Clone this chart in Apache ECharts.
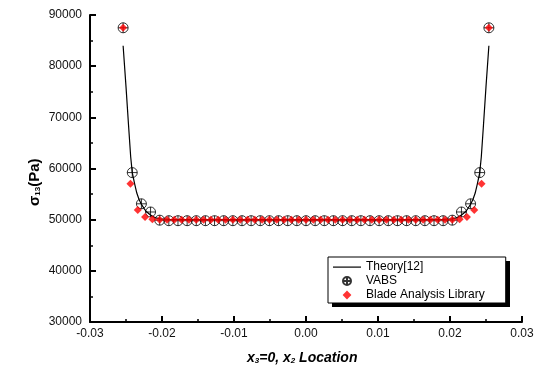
<!DOCTYPE html>
<html><head><meta charset="utf-8">
<script src="https://cdn.jsdelivr.net/npm/echarts@6/dist/echarts.min.js"></script>
<style>html,body{margin:0;padding:0;background:#fff}#c{width:538px;height:367px}</style>
</head><body><div id="c"></div>
<script>
// Theory[12] curve
var theoryX = [-0.0254,-0.0250,-0.02465,-0.02435,-0.02413,-0.0238,-0.0235,-0.0232,-0.0229,-0.0225,-0.0222,-0.0216,-0.0210,-0.0203,-0.0190,-0.0150,-0.0100,-0.0050,0,0.0050,0.0100,0.0150,0.0190,0.0203,0.0210,0.0216,0.0222,0.0225,0.0229,0.0232,0.0235,0.0238,0.02413,0.02435,0.02465,0.0250,0.0254];
var theoryY = [84000,76000,68500,62300,59200,57000,55200,54000,53100,52200,51600,50900,50400,50150,50050,50000,50000,50000,50000,50000,50000,50000,50050,50150,50400,50900,51600,52200,53100,54000,55200,57000,59200,62300,68500,76000,84000];
// VABS points
var vabsX = [-0.02540,-0.02413,-0.02286,-0.02159,-0.02032,-0.01905,-0.01778,-0.01651,-0.01524,-0.01397,-0.01270,-0.01143,-0.01016,-0.00889,-0.00762,-0.00635,-0.00508,-0.00381,-0.00254,-0.00127,0,0.00127,0.00254,0.00381,0.00508,0.00635,0.00762,0.00889,0.01016,0.01143,0.01270,0.01397,0.01524,0.01651,0.01778,0.01905,0.02032,0.02159,0.02286,0.02413,0.02540];
var vabsY = [87500,59200,53100,51500,49900,49800,49800,49800,49800,49800,49800,49800,49800,49800,49800,49800,49800,49800,49800,49800,49800,49800,49800,49800,49800,49800,49800,49800,49800,49800,49800,49800,49800,49800,49800,49800,49900,51500,53100,59200,87500];
// Blade Analysis Library points
var balX = [-0.025400,-0.024384,-0.023368,-0.022352,-0.021336,-0.020320,-0.019304,-0.018288,-0.017272,-0.016256,-0.015240,-0.014224,-0.013208,-0.012192,-0.011176,-0.010160,-0.009144,-0.008128,-0.007112,-0.006096,-0.005080,-0.004064,-0.003048,-0.002032,-0.001016,0,0.001016,0.002032,0.003048,0.004064,0.005080,0.006096,0.007112,0.008128,0.009144,0.010160,0.011176,0.012192,0.013208,0.014224,0.015240,0.016256,0.017272,0.018288,0.019304,0.020320,0.021336,0.022352,0.023368,0.024384,0.025400];
var balY = [87500,57000,51900,50500,50100,50000,50000,50000,50000,50000,50000,50000,50000,50000,50000,50000,50000,50000,50000,50000,50000,50000,50000,50000,50000,50000,50000,50000,50000,50000,50000,50000,50000,50000,50000,50000,50000,50000,50000,50000,50000,50000,50000,50000,50000,50000,50100,50500,51900,57000,87500];
var xTicks = [-0.03,-0.02,-0.01,0.00,0.01,0.02,0.03];
var yTicks = [30000,40000,50000,60000,70000,80000,90000];

function zip(a,b){return a.map(function(v,i){return [v,b[i]];});}
var vabsSymbol = 'path://M0,10 A10,10 0 1,1 20,10 A10,10 0 1,1 0,10 Z M10,0 L10,20 M0,10 L20,10';
var vabsIcon = 'path://M0,0 M70,27.5 M25,13.75 A10,10 0 1,1 45,13.75 A10,10 0 1,1 25,13.75 Z M35,3.75 L35,23.75 M25,13.75 L45,13.75';
var balIcon = 'path://M0,0 M35,13.75 M17.5,1.375 L23,6.875 L17.5,12.375 L12,6.875 Z';
var lineIcon = 'path://M0,0 M28,11 M0,5 L28,5 L28,6.2 L0,6.2 Z';
var font = 'Liberation Sans, Arial, sans-serif';
var chart = echarts.init(document.getElementById('c'), null, {renderer:'canvas'});
chart.setOption({
  animation:false,
  backgroundColor:'#fff',
  grid:{left:90,right:16,top:15,bottom:45},
  xAxis:{type:'value',min:xTicks[0],max:xTicks[xTicks.length-1],interval:0.01,
    axisLine:{onZero:false,lineStyle:{color:'#000',width:2}},
    axisTick:{inside:true,length:6,lineStyle:{color:'#000',width:2}},
    minorTick:{show:true,splitNumber:2,length:3,lineStyle:{color:'#000',width:1.5}},
    splitLine:{show:false},
    axisLabel:{margin:6,color:'#111',fontFamily:font,fontSize:12,formatter:function(v){return v.toFixed(2);}}},
  yAxis:{type:'value',min:yTicks[0],max:yTicks[yTicks.length-1],interval:10000,
    axisLine:{show:true,onZero:false,lineStyle:{color:'#000',width:2}},
    axisTick:{show:true,inside:true,length:6,lineStyle:{color:'#000',width:2}},
    minorTick:{show:true,splitNumber:2,length:3,lineStyle:{color:'#000',width:1.5}},
    splitLine:{show:false},
    axisLabel:{margin:8,color:'#111',fontFamily:font,fontSize:12,formatter:function(v){return String(v);}}},
  legend:{orient:'vertical',left:328,top:257,padding:[3,21,1,4],itemGap:0,z:10,
    backgroundColor:'#fff',borderColor:'#000',borderWidth:1,
    itemWidth:28,itemHeight:11,
    textStyle:{fontFamily:font,fontSize:12,color:'#000',lineHeight:14},
    data:[{name:'Theory[12]',icon:lineIcon},{name:'VABS',icon:vabsIcon},{name:'Blade Analysis Library',icon:balIcon}]},
  graphic:[
    {type:'rect',z:5,shape:{x:332,y:261,width:178,height:46},style:{fill:'#000'}},
    {type:'text',x:247,y:347,style:{rich:{i:{fontFamily:font,fontSize:14,fontWeight:'bold',fontStyle:'italic',fill:'#000',verticalAlign:'bottom',lineHeight:16},s:{fontFamily:font,fontSize:8,fontWeight:'bold',fontStyle:'italic',fill:'#000',verticalAlign:'bottom',padding:[10,0,0,0]}},
      text:'{i|x}{s|3}{i|=0, x}{s|2}{i| Location}'}},
    {type:'text',x:24,y:206,rotation:Math.PI/2,style:{rich:{b:{fontFamily:font,fontSize:15,fontWeight:'bold',fill:'#000',verticalAlign:'bottom',lineHeight:17},s:{fontFamily:font,fontSize:8,fontWeight:'bold',fill:'#000',verticalAlign:'bottom',padding:[10,0,0,0]}},
      text:'{b|σ}{s|13}{b|(Pa)}'}}
  ],
  series:[
    {name:'Theory[12]',type:'line',data:zip(theoryX,theoryY),symbol:'none',smooth:false,
      lineStyle:{color:'#000',width:1.2},itemStyle:{color:'#000'},z:2},
    {name:'VABS',type:'scatter',data:zip(vabsX,vabsY),symbol:vabsSymbol,symbolSize:10,
      itemStyle:{color:'rgba(0,0,0,0)',borderColor:'#000',borderWidth:1},z:3},
    {name:'Blade Analysis Library',type:'scatter',data:zip(balX,balY),symbol:'diamond',symbolSize:8,
      itemStyle:{color:'#ff0000'},z:4}
  ]
});
</script></body></html>
